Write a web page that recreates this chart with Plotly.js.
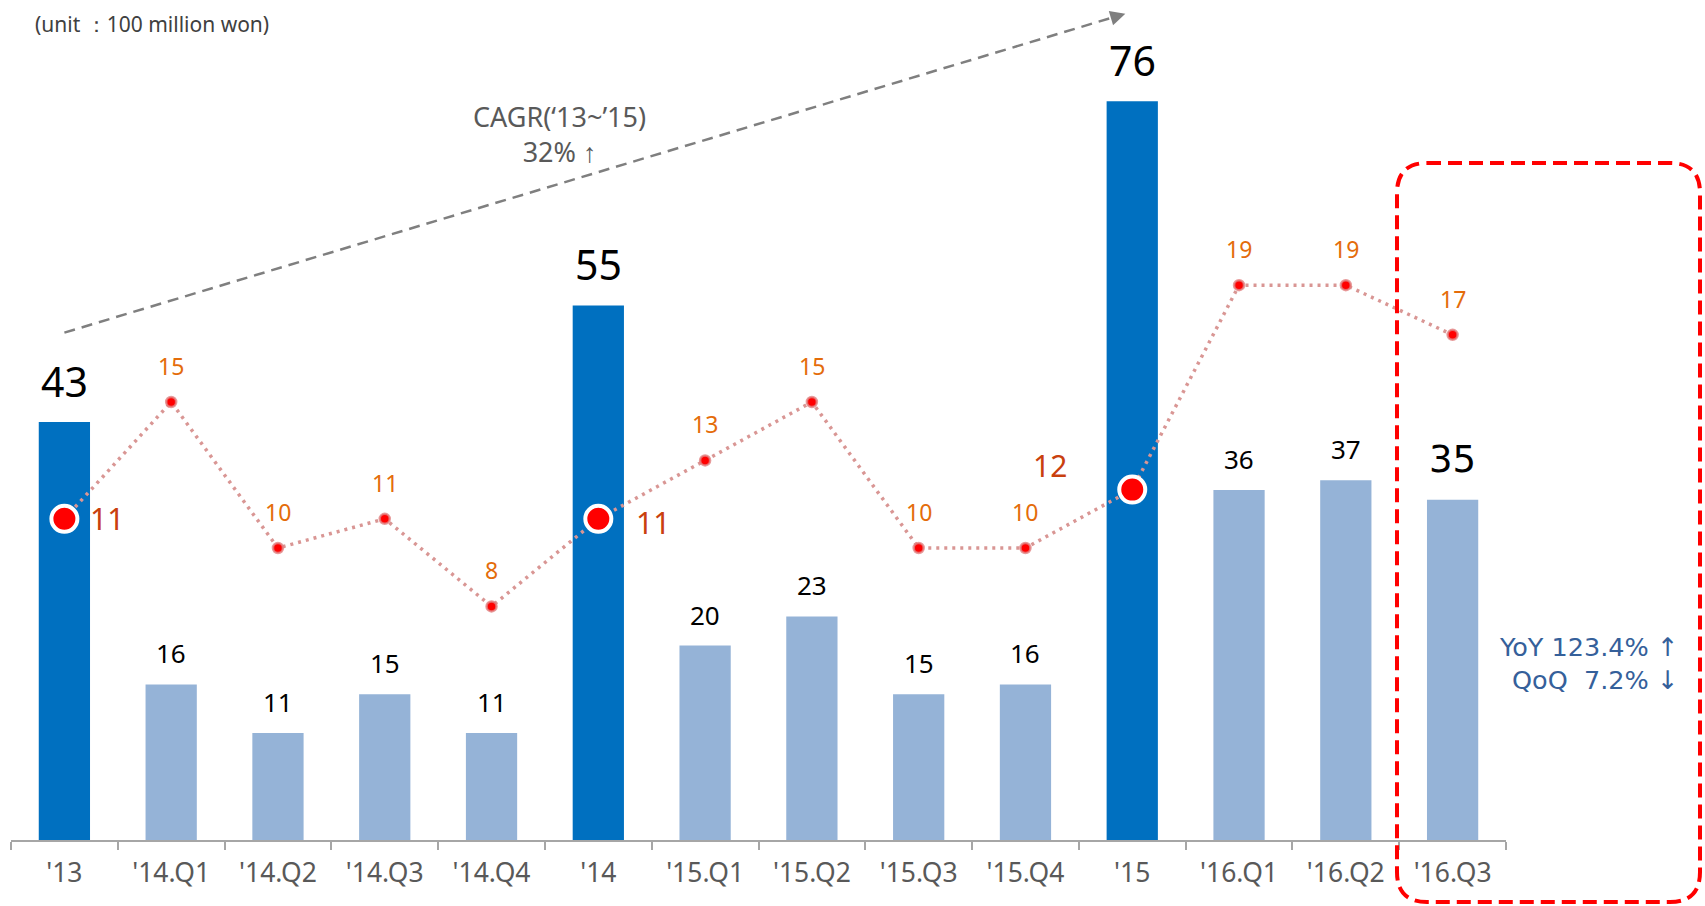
<!DOCTYPE html>
<html>
<head>
<meta charset="utf-8">
<script src="https://cdn.plot.ly/plotly-3.0.1.min.js"></script>
<style>
  html, body { margin: 0; padding: 0; background: #fff; }
  #chart { width: 1705px; height: 906px; }
</style>
</head>
<body>
<div id="chart"></div>
<script>
// ---- data ----
const categories = ["'13", "'14.Q1", "'14.Q2", "'14.Q3", "'14.Q4", "'14", "'15.Q1", "'15.Q2", "'15.Q3", "'15.Q4", "'15", "'16.Q1", "'16.Q2", "'16.Q3"];
const revenue = [43, 16, 11, 15, 11, 55, 20, 23, 15, 16, 76, 36, 37, 35];
const margin = [11, 15, 10, 11, 8, 11, 13, 15, 10, 10, 12, 19, 19, 17.3];
const unitText = "(unit \uFF1A100 million won)";
const topTitleText = "Operating Margin (%)";
const cagrText = "CAGR(\u201813~\u201915)<br>32% \u2191";
const growthText = "YoY 123.4% \u2191<br>QoQ\u00a0\u00a07.2% \u2193";

// ---- style ----
const FONT = "Noto Sans, sans-serif";
const isAnnual = c => c.indexOf('.Q') === -1;
const lastIdx = categories.length - 1;
const redLabelOffset = { "'13": [43, 0], "'14": [55, -4], "'15": [-82, 24] };

const barColors = categories.map(c => isAnnual(c) ? '#0070C0' : '#95B3D7');
const mSizes = categories.map(c => isAnnual(c) ? 26 : 10);
const mLineColors = categories.map(c => isAnnual(c) ? '#FFFFFF' : 'rgba(225,130,130,0.8)');
const mLineWidths = categories.map(c => isAnnual(c) ? 4 : 2.5);

const bars = {
  type: 'bar', x: categories, y: revenue, yaxis: 'y',
  marker: { color: barColors, line: { width: 0 } },
  width: 0.48, hoverinfo: 'skip'
};
const line = {
  type: 'scatter', mode: 'lines+markers', x: categories, y: margin, yaxis: 'y2',
  line: { color: '#D99694', width: 3.5, dash: '3px,5px' },
  marker: { size: mSizes, color: '#FF0000', opacity: 1, line: { color: mLineColors, width: mLineWidths } },
  hoverinfo: 'skip', cliponaxis: false
};

const annotations = [];
categories.forEach((c, i) => {
  const annual = isAnnual(c);
  const hl = i === lastIdx;
  annotations.push({
    x: c, y: revenue[i], xref: 'x', yref: 'y', showarrow: false,
    text: String(revenue[i]), yanchor: 'middle',
    yshift: annual ? 41 : (hl ? 40 : 31),
    font: { family: hl ? 'DejaVu Sans' : FONT, size: annual ? 41 : (hl ? 37 : 26), color: '#000000' }
  });
  const lbl = String(Math.round(margin[i]));
  if (annual) {
    const off = redLabelOffset[c] || [45, 0];
    annotations.push({
      x: c, y: margin[i], xref: 'x', yref: 'y2', showarrow: false,
      text: lbl, xanchor: 'center', yanchor: 'middle',
      xshift: off[0], yshift: off[1],
      font: { family: FONT, size: 30, color: '#C9400E' }
    });
  } else {
    annotations.push({
      x: c, y: margin[i], xref: 'x', yref: 'y2', showarrow: false,
      text: lbl, yanchor: 'middle', yshift: 36,
      font: { family: FONT, size: 23, color: '#E46C0A' }
    });
  }
});

// texts
annotations.push({
  xref: 'paper', yref: 'paper', x: 0.0147, y: 0.9714, xanchor: 'left', yanchor: 'middle',
  text: unitText, showarrow: false, font: { family: FONT, size: 21, color: '#404040' }
});
annotations.push({
  xref: 'paper', yref: 'paper', x: 0.3057, y: 1.0015, xanchor: 'right', yanchor: 'bottom',
  text: topTitleText, showarrow: false, font: { family: FONT, size: 26, color: '#000000' }
});
annotations.push({
  xref: 'paper', yref: 'paper', x: 0.3672, y: 0.841, xanchor: 'center', yanchor: 'middle',
  text: cagrText, showarrow: false, align: 'center', font: { family: FONT, size: 27, color: '#595959' }
});
annotations.push({
  xref: 'paper', yref: 'paper', x: 1.1164, y: 0.2101, xanchor: 'right', yanchor: 'middle',
  text: growthText, showarrow: false, align: 'right', font: { family: 'DejaVu Sans', size: 25.5, color: '#35609A' }
});
// arrow head of CAGR trend
annotations.push({
  xref: 'x', yref: 'y', x: 9.935, y: 85.0, ax: -14.4, ay: 4.3, text: ' ',
  showarrow: true, arrowhead: 2, arrowsize: 1.2, arrowwidth: 2.5, arrowcolor: '#7F7F7F', standoff: 0
});

// rounded red dashed highlight box (paper coords)
const L = 0.92709, R = 1.12977, T = 0.80595, B = -0.07381, rx = 0.02007, ry = 0.03571;
const boxPath = `M ${L + rx},${T} L ${R - rx},${T} Q ${R},${T} ${R},${T - ry} L ${R},${B + ry} Q ${R},${B} ${R - rx},${B} L ${L + rx},${B} Q ${L},${B} ${L},${B + ry} L ${L},${T - ry} Q ${L},${T} ${L + rx},${T} Z`;

const shapes = [
  { type: 'line', xref: 'x', yref: 'y', x0: 0, y0: 52.2, x1: 9.9, y1: 84.9,
    line: { color: '#7F7F7F', width: 2.5, dash: '11px,7px' } },
  { type: 'path', xref: 'paper', yref: 'paper', path: boxPath,
    line: { color: '#FF0000', width: 4, dash: '14px,7px' }, fillcolor: 'rgba(0,0,0,0)' }
];

const layout = {
  width: 1705, height: 906,
  margin: { l: 11, r: 199, t: 0, b: 66 },
  paper_bgcolor: '#ffffff', plot_bgcolor: '#ffffff',
  showlegend: false,
  xaxis: {
    type: 'category', range: [-0.5, 13.5], showgrid: false, zeroline: false,
    showline: true, linecolor: '#A6A6A6', linewidth: 2,
    ticks: 'outside', tickson: 'boundaries', ticklen: 8, tickwidth: 2, tickcolor: '#A6A6A6',
    ticklabelstandoff: 8,
    tickfont: { family: FONT, size: 26.5, color: '#595959' }, fixedrange: true
  },
  yaxis: { range: [0, 840 / 9.72], visible: false, showgrid: false, zeroline: false, fixedrange: true },
  yaxis2: { range: [0, 840 / 29.2], overlaying: 'y', visible: false, showgrid: false, zeroline: false, fixedrange: true },
  annotations: annotations,
  shapes: shapes
};

Plotly.newPlot('chart', [bars, line], layout, { displayModeBar: false, staticPlot: true });
</script>
</body>
</html>
